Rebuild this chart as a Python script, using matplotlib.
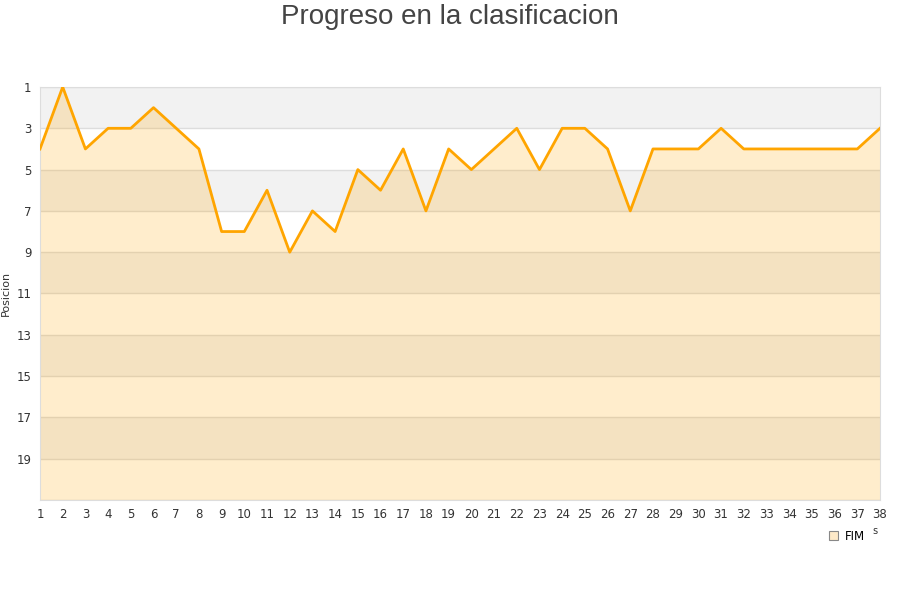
import matplotlib.pyplot as plt
from matplotlib.patches import Patch

# jornadas y posiciones
jornadas = list(range(1, 39))
posiciones = [4, 1, 4, 3, 3, 2, 3, 4, 8, 8, 6, 9, 7, 8, 5, 6, 4, 7, 4, 5,
              4, 3, 5, 3, 3, 4, 7, 4, 4, 4, 3, 4, 4, 4, 4, 4, 4, 3]
y_ticks = list(range(1, 21, 2))
equipo = 'FIM'

fig = plt.figure(figsize=(9, 6), dpi=100)
ax = fig.add_axes([40 / 900, 100 / 600, 840 / 900, 413 / 600])

# bandas alternas
for i, y0 in enumerate(range(1, 21, 2)):
    color = '#f2f2f2' if i % 2 == 0 else 'white'
    ax.axhspan(y0, y0 + 2, color=color, zorder=0, lw=0)
for y0 in range(1, 22, 2):
    ax.axhline(y0, color='#dddddd', lw=1, zorder=1)

ax.fill_between(jornadas, posiciones, 21, color='#ffa500', alpha=0.2, lw=0, zorder=2)
ax.plot(jornadas, posiciones, color='#ffa500', lw=2.0, zorder=3)

ax.set_xlim(1, 38)
ax.set_ylim(21, 1)
ax.set_xticks(jornadas)
ax.set_yticks(y_ticks)
ax.tick_params(length=0, labelsize=8.5, colors='#333333', pad=6)
for s in ax.spines.values():
    s.set_color('#dddddd')

ax.set_ylabel('Posicion', fontsize=8, color='#333333', labelpad=4)
fig.text(0.5, 0.993, 'Progreso en la clasificacion', ha='center', va='top',
         fontsize=20, color='#444444', family='Liberation Sans')

leg = fig.legend(handles=[Patch(facecolor='#fde9c8', edgecolor='#888888', lw=0.8, label=equipo)],
                 loc='center', frameon=False,
                 fontsize=8.5, handlelength=0.7, handleheight=0.7, handletextpad=0.6)
leg.set_bbox_to_anchor((847 / 900, 1 - 536 / 600), transform=fig.transFigure)
fig.text(875 / 900, 1 - 531 / 600, 's', fontsize=7, color='#333333', ha='center', va='center')

fig.savefig('out.png', dpi=100)
